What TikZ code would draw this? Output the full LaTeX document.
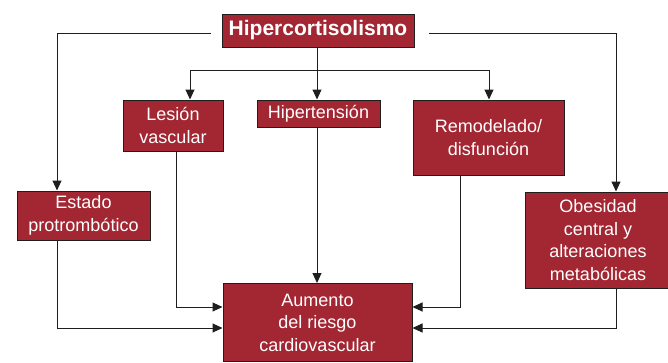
\documentclass[tikz,border=0pt]{standalone}
\usepackage{fontspec}
\setmainfont{Liberation Sans}
\usepackage{tikz}
\usetikzlibrary{arrows.meta}

\definecolor{vino}{HTML}{A22733}
\definecolor{linea}{HTML}{1E1E1E}

\tikzset{
  caja/.style={draw=linea,line width=1pt,fill=vino,text=white,align=center,
    inner sep=0pt,font=\fontsize{18}{22.5}\selectfont},
  flecha/.style={draw=linea,line width=1pt}
}

\begin{document}
\begin{tikzpicture}[line cap=rect,line join=miter,>={Triangle[length=10pt,width=9pt]},x=1pt,y=-1pt]
        \clip (0,0) rectangle (668,362);
        % cajas
        \node[caja,minimum width=192pt,minimum height=33pt,font=\fontsize{21}{25}\selectfont\bfseries] (hiper) at (318,30.5) {Hipercortisolismo};
        \node[caja,minimum width=100pt,minimum height=51pt] (lesion) at (173,125.5) {Lesión\\vascular};
        \node[caja,minimum width=123pt,minimum height=27pt] (hipert) at (318.5,113.5) {Hipertensión};
        \node[caja,minimum width=151pt,minimum height=75pt] (remod) at (488.5,137.5) {Remodelado/\\disfunción};
        \node[caja,minimum width=133pt,minimum height=49pt] (estado) at (83.5,215.5) {Estado\\protrombótico};
        \node[caja,minimum width=146pt,minimum height=96pt] (obes) at (598,240) {Obesidad\\central y\\alteraciones\\metabólicas};
        \node[caja,minimum width=189pt,minimum height=78pt] (aumento) at (317.5,322.5) {Aumento\\del riesgo\\cardiovascular};
        % puntos de paso
        \coordinate (hl) at (210,33);
        \coordinate (hr) at (429,33);
        \coordinate (fork) at (317,70);
        \coordinate (xa) at (57,0);
        \coordinate (xb) at (190,0);
        \coordinate (xc) at (176,0);
        \coordinate (xe) at (489,0);
        \coordinate (xf) at (460,0);
        \coordinate (xg) at (616,0);
        \coordinate (ya) at (0,307);
        \coordinate (yb) at (0,328);
        % conectores
        \draw [flecha,->] (hl) -| (xa |- estado.north);
        \draw [flecha,->] (hr) -| (xg |- obes.north);
        \draw [flecha] (hiper.south -| fork) -- (fork);
        \draw [flecha,->] (fork) -| (xb |- lesion.north);
        \draw [flecha,->] (fork) -| (xe |- remod.north);
        \draw [flecha,->] (fork) -- (fork |- hipert.north);
        \draw [flecha,->] (fork |- hipert.south) -- (fork |- aumento.north);
        \draw [flecha,->] (xc |- lesion.south) |- (aumento.west |- ya);
        \draw [flecha,->] (xa |- estado.south) |- (aumento.west |- yb);
        \draw [flecha,->] (xf |- remod.south) |- (aumento.east |- ya);
        \draw [flecha,->] (xg |- obes.south) |- (aumento.east |- yb);
    \end{tikzpicture}
\end{document}
